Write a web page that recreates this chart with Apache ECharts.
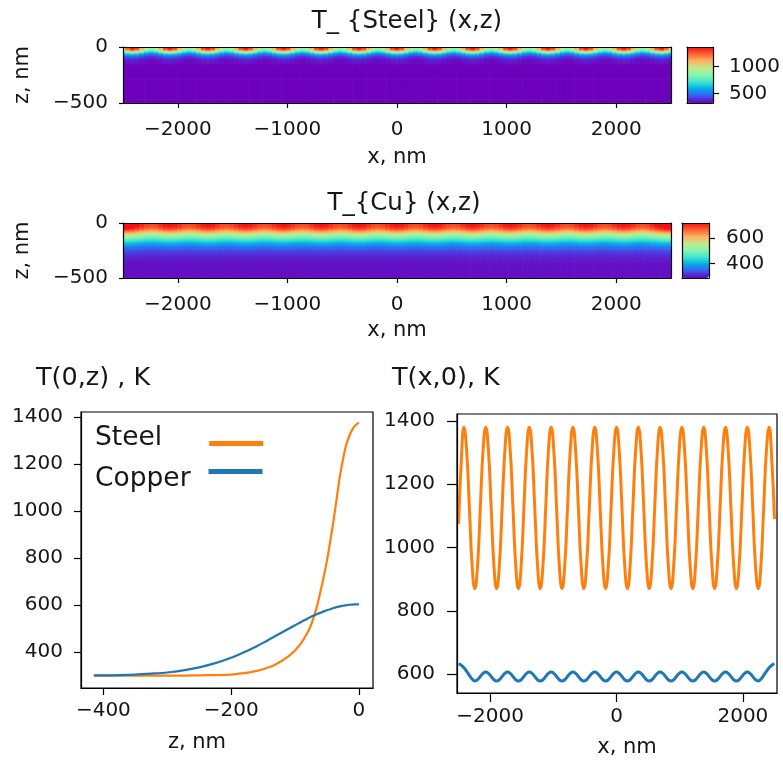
<!DOCTYPE html>
<html>
<head>
<meta charset="utf-8">
<script src="https://cdn.jsdelivr.net/npm/echarts@6/dist/echarts.min.js"></script>
<style>
html,body{margin:0;padding:0;background:#fff;}
#c{width:783px;height:761px;}
</style>
</head>
<body>
<div id="c"></div>
<script>
// ---------- data ----------
// surface position samples, nm (x)
const xs = [-2500,-2458,-2415,-2372,-2329,-2286,-2243,-2199,-2156,-2113,-2070,-2027,-1984,-1941,-1898,-1854,-1811,-1768,-1725,-1682,-1639,-1596,-1553,-1509,-1466,-1423,-1380,-1337,-1294,-1251,-1208,-1164,-1121,-1078,-1035,-992,-949,-906,-863,-819,-776,-733,-690,-647,-604,-561,-518,-474,-431,-388,-345,-302,-259,-216,-173,-129,-86,-43,0,43,86,129,173,216,259,302,345,388,431,474,518,561,604,647,690,733,776,819,863,906,949,992,1035,1078,1121,1164,1208,1251,1294,1337,1380,1423,1466,1509,1553,1596,1639,1682,1725,1768,1811,1854,1898,1941,1984,2027,2070,2113,2156,2199,2243,2286,2329,2372,2415,2458,2500];
// T(x,0) steel, K
const steelSurface = [1075,1270,
 1380,1305,1125,945,870,945,1125,1305, 1380,1305,1125,945,870,945,1125,1305,
 1380,1305,1125,945,870,945,1125,1305, 1380,1305,1125,945,870,945,1125,1305,
 1380,1305,1125,945,870,945,1125,1305, 1380,1305,1125,945,870,945,1125,1305,
 1380,1305,1125,945,870,945,1125,1305, 1380,1305,1125,945,870,945,1125,1305,
 1380,1305,1125,945,870,945,1125,1305, 1380,1305,1125,945,870,945,1125,1305,
 1380,1305,1125,945,870,945,1125,1305, 1380,1305,1125,945,870,945,1125,1305,
 1380,1305,1125,945,870,945,1125,1305, 1380,1305,1125,945,870,945,1125,1305,
 1380,1275,1090];
// T(x,0) copper, K
const cuSurface = [632,628,620,608,596,584,
 578,582,592,602,606,602,592,582, 578,582,592,602,606,602,592,582,
 578,582,592,602,606,602,592,582, 578,582,592,602,606,602,592,582,
 578,582,592,602,606,602,592,582, 578,582,592,602,606,602,592,582,
 578,582,592,602,606,602,592,582, 578,582,592,602,606,602,592,582,
 578,582,592,602,606,602,592,582, 578,582,592,602,606,602,592,582,
 578,582,592,602,606,602,592,582, 578,582,592,602,606,602,592,582,
 578,582,592,602,606,602,592,582,
 578,584,596,608,620,628,632];
// depth samples, nm (z)
const zs = [-415,-400,-375,-350,-325,-300,-275,-250,-225,-200,-180,-160,-150,-140,-130,-120,-110,-100,-90,-80,-75,-70,-65,-60,-55,-50,-45,-40,-35,-30,-25,-20,-15,-10,-5,0];
// T(0,z), K
const steelDepth = [300,300,300,300,300,300,300,301,302,304,310,320,327,336,348,364,383,407,440,485,515,555,602,660,722,790,870,955,1050,1145,1220,1280,1320,1348,1366,1376];
const cuDepth    = [301,301,302,304,308,313,322,335,353,376,399,425,439,454,469,484,499,514,529,543,550,556,562,567,573,578,582,587,591,594,597,599,601,602,603,603];
// copper map depth profile, K
const cuMapDepth = [294,295,296,298,302,308,318,330,350,376,402,435,453,472,492,513,535,558,582,607,620,632,645,657,668,678,687,695,701,706,710,713,715,717,718,718];
// colour-bar ranges and ticks
const steelBarRange = [320, 1365];
const cuBarRange = [285, 720];
const steelBarTicks = [500, 1000];
const cuBarTicks = [400, 600];
const mapXTicks = [-2000, -1000, 0, 1000, 2000];
const mapZTicks = [-500, 0];
const depthXTicks = [-400, -200, 0];
const depthYTicks = [400, 600, 800, 1000, 1200, 1400];
const surfXTicks = [-2000, 0, 2000];
const surfYTicks = [600, 800, 1000, 1200, 1400];

// ---------- build map tables ----------
function clamp(v, r){ return Math.max(r[0], Math.min(r[1], v)); }
function buildMap(surface, depth, surfRef, depthBase, range){
  const out = [];
  const nx = xs.length, nz = zs.length;
  for (let i = 0; i < nx; i++) {
    const x0 = i === 0 ? xs[0] : (xs[i-1] + xs[i]) / 2;
    const x1 = i === nx-1 ? xs[nx-1] : (xs[i] + xs[i+1]) / 2;
    const f = (surface[i] - surfRef[0]) / (surfRef[1] - surfRef[0]);
    for (let j = 0; j < nz; j++) {
      const z0 = j === 0 ? -500 : (zs[j-1] + zs[j]) / 2;
      const z1 = j === nz-1 ? 0 : (zs[j] + zs[j+1]) / 2;
      const v = depthBase + f * (depth[j] - depthBase);
      out.push([x0, x1, z0, z1, clamp(v, range)]);
    }
  }
  return out;
}
const steelMap = buildMap(steelSurface, steelDepth, [300, steelDepth[steelDepth.length-1]], 300, steelBarRange);
const cuMap = buildMap(cuSurface, cuMapDepth, [300, cuDepth[cuDepth.length-1]], cuMapDepth[0], cuBarRange);

// ---------- chart ----------
const FONT = 'DejaVu Sans';
const TXT = '#161616';
const ORANGE = '#ff7f0e', BLUE = '#1f77b4';
const rainbow = ['#6c00bc','#3e58ef','#00acea','#3ee4cf','#84f6ae','#c2ea8a','#ffb262','#ff6232','#f21212'];
const minus = v => String(v).replace('-', '\u2212');

function cellRender(params, api){
  const a = api.coord([api.value(0), api.value(3)]);
  const b = api.coord([api.value(1), api.value(2)]);
  return {type:'rect', shape:{x:a[0], y:a[1], width:b[0]-a[0]+0.6, height:b[1]-a[1]+0.6},
          style:{fill: api.visual('color')}};
}
function frameAxis(grid, pos, min, max){
  return {type:'value', gridIndex:grid, position:pos, min:min, max:max, z:10,
          axisLine:{show:true, onZero:false, lineStyle:{color:'#000', width:1.2}},
          axisTick:{show:false}, axisLabel:{show:false}, splitLine:{show:false}};
}
function labAxis(grid, pos, min, max, ticks, o){
  o = o || {};
  const ax = {type:'value', gridIndex:grid, position:pos, min:min, max:max, z:10,
    axisLine:{show:true, onZero:false, lineStyle:{color:'#000', width:1.2}},
    axisTick:{show:true, inside:false, length:o.tick||6, customValues:ticks, lineStyle:{color:'#000', width:1.2}},
    axisLabel:{show:true, customValues:ticks, margin:o.margin||12, formatter:minus,
               fontFamily:FONT, fontSize:o.fs||20, color:TXT},
    splitLine:{show:false}};
  if (o.name) {
    ax.name = o.name; ax.nameLocation = 'middle'; ax.nameGap = o.nameGap;
    ax.nameTextStyle = {fontFamily:FONT, fontSize:o.nfs||21, color:TXT, padding:o.npad||0};
  }
  return ax;
}
function legendFor(name, top, pad){
  return {data:[name], orient:'vertical', left:95, top:top, padding:0, align:'right', icon:'rect',
    itemWidth:54, itemHeight:5, selectedMode:false, formatter:'{t|{name}}',
    textStyle:{fontFamily:FONT, fontSize:26.5, color:TXT,
      rich:{t:{fontFamily:FONT, fontSize:26.5, color:TXT, lineHeight:30, padding:pad}}}};
}

const option = {
  animation:false,
  backgroundColor:'#fff',
  title:[
    {text:'T_ {Steel} (x,z)', left:407, top:9, textAlign:'center', padding:0,
     textStyle:{fontFamily:FONT, fontSize:24.5, fontWeight:'normal', color:TXT}},
    {text:'T_{Cu} (x,z)', left:404, top:191, textAlign:'center', padding:0,
     textStyle:{fontFamily:FONT, fontSize:24.5, fontWeight:'normal', color:TXT}},
    {text:'T(0,z) , K', left:36, top:365, padding:0,
     textStyle:{fontFamily:FONT, fontSize:25.5, fontWeight:'normal', color:TXT}},
    {text:'T(x,0), K', left:392, top:365, padding:0,
     textStyle:{fontFamily:FONT, fontSize:25.5, fontWeight:'normal', color:TXT}}
  ],
  grid:[
    {left:123, top:47, width:548, height:56},
    {left:687, top:47, width:27, height:56},
    {left:123, top:223, width:548, height:55},
    {left:682, top:223, width:27, height:55},
    {left:81, top:412, width:292, height:276, show:true, borderColor:'#000', borderWidth:1.2},
    {left:457, top:414, width:320, height:279, show:true, borderColor:'#000', borderWidth:1.2}
  ],
  xAxis:[
    labAxis(0,'bottom',-2500,2500,mapXTicks,{tick:5, margin:17, name:'x, nm', nameGap:44}),
    frameAxis(0,'top',-2500,2500),
    frameAxis(1,'bottom',0,1),
    frameAxis(1,'top',0,1),
    labAxis(2,'bottom',-2500,2500,mapXTicks,{tick:5, margin:17, name:'x, nm', nameGap:42}),
    frameAxis(2,'top',-2500,2500),
    frameAxis(3,'bottom',0,1),
    frameAxis(3,'top',0,1),
    labAxis(4,'bottom',-435,22,depthXTicks,{tick:7, margin:13, name:'z, nm', nameGap:44, npad:[0,60,0,0]}),
    labAxis(5,'bottom',-2525,2540,surfXTicks,{tick:9, margin:14, name:'x, nm', nameGap:44, npad:[0,0,0,20]})
  ],
  yAxis:[
    labAxis(0,'left',-500,0,mapZTicks,{tick:4, margin:15, name:'z, nm', nameGap:90}),
    frameAxis(0,'right',-500,0),
    labAxis(1,'right',steelBarRange[0],steelBarRange[1],steelBarTicks,{tick:6, margin:16, fs:20}),
    frameAxis(1,'left',steelBarRange[0],steelBarRange[1]),
    labAxis(2,'left',-500,0,mapZTicks,{tick:4, margin:15, name:'z, nm', nameGap:90}),
    frameAxis(2,'right',-500,0),
    labAxis(3,'right',cuBarRange[0],cuBarRange[1],cuBarTicks,{tick:6, margin:17, fs:20}),
    frameAxis(3,'left',cuBarRange[0],cuBarRange[1]),
    labAxis(4,'left',247,1421,depthYTicks,{tick:7, margin:18}),
    labAxis(5,'left',540,1422,surfYTicks,{tick:10, margin:22})
  ],
  visualMap:[
    {type:'continuous', seriesIndex:0, dimension:4, min:steelBarRange[0], max:steelBarRange[1],
     inRange:{color:rainbow}, orient:'vertical', left:687, top:47, itemWidth:27, itemHeight:56,
     padding:0, calculable:false, hoverLink:false, text:null},
    {type:'continuous', seriesIndex:1, dimension:4, min:cuBarRange[0], max:cuBarRange[1],
     inRange:{color:rainbow}, orient:'vertical', left:682, top:223, itemWidth:27, itemHeight:55,
     padding:0, calculable:false, hoverLink:false, text:null}
  ],
  legend:[
    legendFor('Steel', 425, [0,42,10,0]),
    legendFor('Copper', 450, [16,13,0,0])
  ],
  series:[
    {type:'custom', name:'T steel map', xAxisIndex:0, yAxisIndex:0, renderItem:cellRender, clip:true, silent:true,
     encode:{x:[0,1], y:[2,3]}, data:steelMap},
    {type:'custom', name:'T copper map', xAxisIndex:4, yAxisIndex:4, renderItem:cellRender, clip:true, silent:true,
     encode:{x:[0,1], y:[2,3]}, data:cuMap},
    {type:'line', name:'Steel', xAxisIndex:8, yAxisIndex:8, color:ORANGE, showSymbol:false, smooth:0.3,
     lineStyle:{width:2.2, color:ORANGE}, data:zs.map((z,i)=>[z, steelDepth[i]])},
    {type:'line', name:'Copper', xAxisIndex:8, yAxisIndex:8, color:BLUE, showSymbol:false, smooth:0.3,
     lineStyle:{width:2.2, color:BLUE}, data:zs.map((z,i)=>[z, cuDepth[i]])},
    {type:'line', name:'Steel', xAxisIndex:9, yAxisIndex:9, color:ORANGE, showSymbol:false, smooth:0.5,
     lineStyle:{width:3, color:ORANGE}, data:xs.map((x,i)=>[x, steelSurface[i]])},
    {type:'line', name:'Copper', xAxisIndex:9, yAxisIndex:9, color:BLUE, showSymbol:false, smooth:0.5,
     lineStyle:{width:3, color:BLUE}, data:xs.map((x,i)=>[x, cuSurface[i]])}
  ]
};
const chart = echarts.init(document.getElementById('c'), null, {renderer:'canvas'});
chart.setOption(option);
</script>
</body>
</html>
